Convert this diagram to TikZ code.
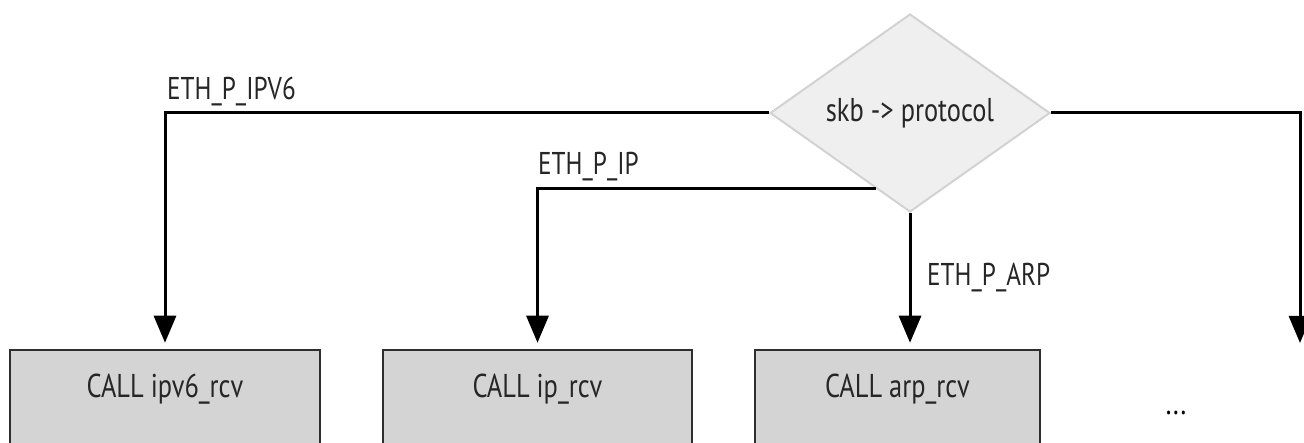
\documentclass[tikz,border=0pt]{standalone}
\usepackage{fontspec}
\setmainfont{PT Sans}[FakeStretch=0.8]
\usetikzlibrary{shapes.geometric,arrows.meta,calc}
\definecolor{boxfill}{HTML}{D4D4D4}
\definecolor{boxline}{HTML}{2E2E2E}
\definecolor{dfill}{HTML}{EFEFEF}
\definecolor{dline}{HTML}{D2D2D2}
\tikzset{
  callbox/.style={draw=boxline, line width=2.5pt, fill=boxfill, minimum height=96pt, inner sep=0pt, text height=20pt, text depth=20pt, font=\fontsize{33}{35}\selectfont, text=black!85},
  decision/.style={diamond, draw=dline, line width=2pt, fill=dfill, minimum width=280pt, minimum height=198pt, inner sep=0pt, aspect=1.414, font=\fontsize{33}{35}\selectfont, text=black!85},
  flow/.style={line width=3pt, -{Triangle[length=27pt,width=22pt]}, shorten >=6pt},
  lbl/.style={anchor=base west, inner sep=0pt, font=\fontsize{31.5}{33}\selectfont, text=black!85}
}
\begin{document}
\begin{tikzpicture}[x=1pt,y=-1pt]
\useasboundingbox (0,0) rectangle (1304,443);
\clip (0,0) rectangle (1304,443);
\node[decision] (d) at (910,113) {skb -> protocol};
\node[callbox, minimum width=310pt] (b1) at (165,398) {CALL ipv6\_rcv};
\node[callbox, minimum width=309pt] (b2) at (537.5,398) {CALL ip\_rcv};
\node[callbox, minimum width=285pt] (b3) at (897.5,398) {CALL arp\_rcv};
\node[font=\fontsize{33}{35}\selectfont, inner sep=0pt, anchor=base] (more) at (1176,414) {...};
\coordinate (e) at (1300,349);
\coordinate (ipstart) at ($(d.west)!0.76!(d.south)$);
\draw[flow] (d.west) -| (b1.north);
\draw[flow] (ipstart) -| (b2.north);
\draw[flow] (d.south) -- (d.south |- b3.north);
\draw[flow] (d.east) -| (e);
\node[lbl] (l1) at (167,100) {ETH\_P\_IPV6};
\node[lbl] (l2) at (538,175) {ETH\_P\_IP};
\node[lbl] (l3) at (927,286) {ETH\_P\_ARP};
\end{tikzpicture}
\end{document}
